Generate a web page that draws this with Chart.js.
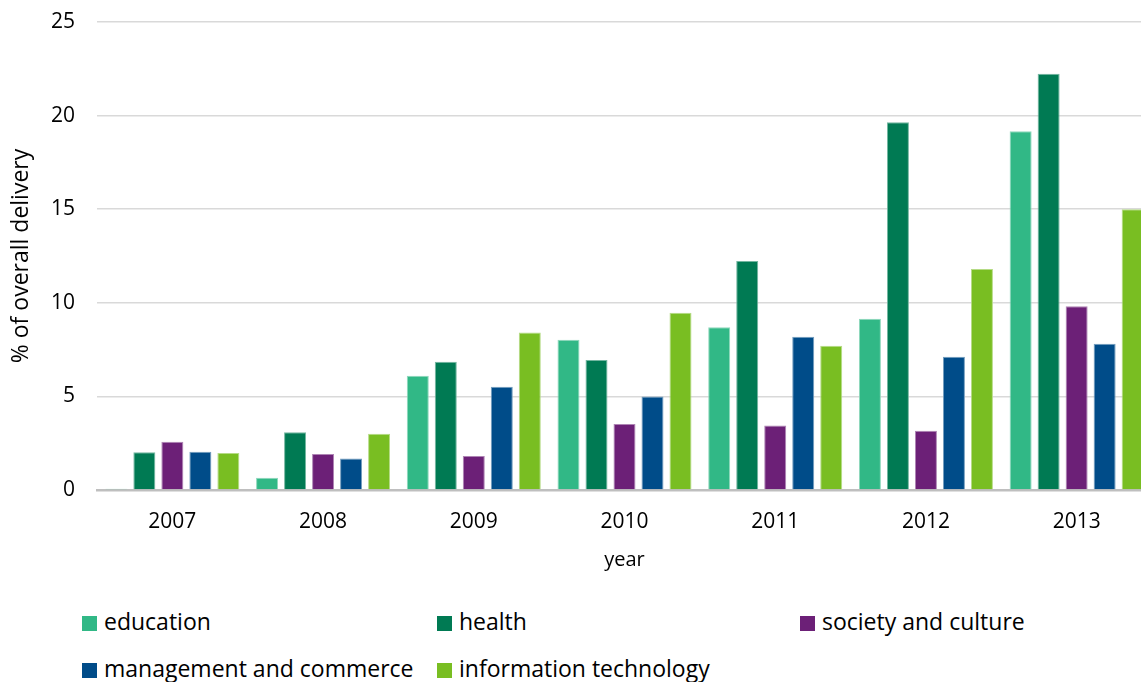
<!DOCTYPE html>
<html>
<head>
<meta charset="utf-8">
<script src="https://cdn.jsdelivr.net/npm/chart.js@4.4.0/dist/chart.umd.min.js"></script>
<style>
  html, body { margin: 0; padding: 0; background: #fff; overflow: hidden; width: 1141px; height: 682px; }
  #wrap { position: relative; width: 1141px; height: 682px; overflow: hidden; }
  #c { position: absolute; left: 0; top: 0; }
  .lg { position: absolute; font-family: "Open Sans", sans-serif; font-size: 23px; color: #000; white-space: nowrap; line-height: 30px; }
  .lg span { display: inline-block; width: 15px; height: 15px; margin-right: 7px; vertical-align: -1px; }
</style>
</head>
<body>
<div id="wrap">
  <canvas id="c" width="1152" height="580"></canvas>
</div>
<script>
// anos e séries
var anos = ["2007", "2008", "2009", "2010", "2011", "2012", "2013"];
var series = ["education", "health", "society and culture", "management and commerce", "information technology"];
var cores = ["#31B886", "#007A53", "#6C2077", "#004C89", "#79BE22"];

var education = [0.07, 0.66, 6.1, 8.03, 8.7, 9.15, 19.17];
var health = [2.02, 3.09, 6.85, 6.94, 12.23, 19.64, 22.23];
var society = [2.58, 1.92, 1.82, 3.53, 3.44, 3.17, 9.82];
var management = [2.04, 1.68, 5.52, 4.99, 8.19, 7.12, 7.81];
var informationTech = [1.98, 3.01, 8.42, 9.47, 7.7, 11.81, 15.0];

var yTicks = [0, 5, 10, 15, 20, 25];

var valores = [education, health, society, management, informationTech];

// cor mais clara pra borda das barras
function clarear(hex, f) {
    var r = parseInt(hex.substr(1, 2), 16), g = parseInt(hex.substr(3, 2), 16), b = parseInt(hex.substr(5, 2), 16);
    r = Math.round(r + (255 - r) * f); g = Math.round(g + (255 - g) * f); b = Math.round(b + (255 - b) * f);
    return "rgb(" + r + "," + g + "," + b + ")";
}

var datasets = [];
for (var i = 0; i < series.length; i++) {
    datasets.push({
        label: series[i],
        data: valores[i],
        backgroundColor: cores[i],
        borderColor: clarear(cores[i], 0.45),
        borderWidth: 1,
        barPercentage: 0.786,
        categoryPercentage: 0.929
    });
}

var fonte = "'Open Sans', sans-serif";

const config = {
    type: "bar",
    data: { labels: anos, datasets: datasets },
    options: {
        responsive: false,
        animation: false,
        layout: { padding: { top: 22, right: 0, bottom: 0, left: 0 } },
        plugins: { legend: { display: false }, tooltip: { enabled: false } },
        scales: {
            x: {
                grid: { display: false, drawTicks: false },
                border: { display: true, color: "#bfbfbf", width: 2.5 },
                ticks: { color: "#000", font: { family: fonte, size: 21 }, padding: 19 },
                title: { display: true, text: "year", color: "#000", font: { family: fonte, size: 20 }, padding: { top: 0, bottom: 8 } },
                afterFit: function(scale) { scale.height = 90; scale.paddingLeft = 0; scale.paddingRight = 0; }
            },
            y: {
                min: 0,
                max: 25,
                afterBuildTicks: function(scale) { scale.ticks = yTicks.map(function(v) { return { value: v }; }); },
                grid: { color: "#d9d9d9", lineWidth: 1.5, drawTicks: false },
                border: { display: false },
                ticks: { color: "#000", font: { family: fonte, size: 21 }, padding: 22 },
                title: { display: true, text: "% of overall delivery", color: "#000", font: { family: fonte, size: 23 }, padding: { top: 8, bottom: 0 } },
                afterFit: function(scale) { scale.width = 97; scale.paddingTop = 0; scale.paddingBottom = 0; }
            }
        }
    }
};

var grafico = new Chart(document.getElementById("c"), config);

// legenda em grade, como no original
var colX = [82, 437, 800];
var rowY = [606, 653];
var wrap = document.getElementById("wrap");
for (var k = 0; k < series.length; k++) {
    var d = document.createElement("div");
    d.className = "lg";
    d.style.left = colX[k % 3] + "px";
    d.style.top = rowY[Math.floor(k / 3)] + "px";
    d.innerHTML = '<span style="background:' + cores[k] + '"></span>' + series[k];
    wrap.appendChild(d);
}
</script>
</body>
</html>
